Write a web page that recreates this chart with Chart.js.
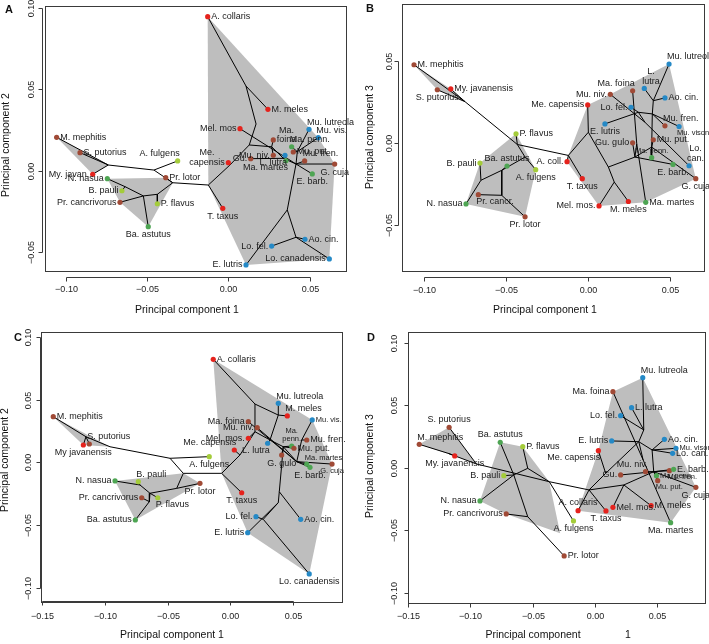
<!DOCTYPE html>
<html>
<head>
<meta charset="utf-8">
<script src="https://cdn.jsdelivr.net/npm/chart.js@4.4.1/dist/chart.umd.min.js"></script>
<style>
  body { margin: 0; background: #fff; width: 709px; height: 644px; position: relative; overflow: hidden; }
  canvas { position: absolute; }
</style>
</head>
<body>
<canvas id="chartA" width="354" height="320" style="left:0;top:0"></canvas>
<canvas id="chartB" width="355" height="320" style="left:354px;top:0"></canvas>
<canvas id="chartC" width="354" height="324" style="left:0;top:320px"></canvas>
<canvas id="chartD" width="355" height="324" style="left:354px;top:320px"></canvas>
<script>
// species order shared by all four panels
const species = ['M. mephitis', 'S. putorius', 'My. javanensis', 'N. nasua', 'B. pauli', 'Pr. cancrivorus',
    'P. flavus', 'Ba. astutus', 'Pr. lotor', 'A. fulgens', 'A. collaris', 'M. meles', 'Mel. mos.',
    'Me. capensis', 'Gu. gulo', 'T. taxus', 'Ma. foina', 'Mu. niv.', 'L. lutra', 'Ma. martes',
    'Ma. penn.', 'Mu. put.', 'Mu. lutreola', 'Mu. vison', 'Mu. fren.', 'G. cuja', 'E. barb.',
    'Lo. fel.', 'Ao. cin.', 'Lo. canadensis', 'E. lutris'];
const speciesGroup = ['brown', 'brown', 'red', 'green', 'ygreen', 'brown', 'ygreen', 'green', 'brown', 'ygreen',
    'red', 'red', 'red', 'red', 'brown', 'red', 'brown', 'brown', 'blue', 'green', 'green', 'brown',
    'blue', 'blue', 'brown', 'brown', 'green', 'blue', 'blue', 'blue', 'blue'];

// Panel A: PC1 vs PC2
const xA = [-0.1057, -0.0913, -0.0835, -0.0745, -0.0655, -0.0667, -0.0437, -0.0493, -0.0385, -0.0312,
    -0.0127, 0.0244, 0.0072, 0.0000, 0.0138, -0.0034, 0.0277, 0.0277, 0.0349, 0.0355, 0.0390, 0.0400,
    0.0497, 0.0554, 0.0470, 0.0655, 0.0517, 0.0267, 0.0472, 0.0622, 0.0109];
const yA = [0.0205, 0.0111, -0.0022, -0.0049, -0.0123, -0.0194, -0.0203, -0.0344, -0.0043, 0.0060,
    0.0946, 0.0377, 0.0258, 0.0049, 0.0074, -0.0231, 0.0189, 0.0095, 0.0095, 0.0061, 0.0147, 0.0115,
    0.0254, 0.0203, 0.0060, 0.0041, -0.0020, -0.0463, -0.0421, -0.0542, -0.0579];
const nodeNamesA = ['a1', 'a2', 'a3', 'a4', 'a5', 'a6', 'r0', 'nme', 'r1', 'r2', 'r3', 'c0', 'c1', 'c3', 'c4', 'r4', 'r5'];
const nodeXA = [-0.0739, -0.0458, -0.0342, -0.0523, -0.0437, -0.0636, -0.0123, 0.0010, 0.0129, 0.0171, 0.0109, 0.0267, 0.0339, 0.0417, 0.0425, 0.0363, 0.0417];
const nodeYA = [0.0035, 0.0004, -0.0074, -0.0155, -0.0145, -0.0098, -0.0088, 0.0035, 0.0158, 0.0287, 0.0520, 0.0147, 0.0076, 0.0041, 0.0117, -0.0241, -0.0409];
const edgesA = [[0, 'a1'], [1, 'a1'], [2, 'a1'], ['a1', 'a2'], ['a2', 9], ['a2', 'a3'], [8, 'a3'], ['a3', 'a5'],
    ['a5', 6], ['a5', 'a4'], ['a4', 7], ['a4', 5], ['a4', 'a6'], ['a6', 3], ['a6', 4], ['a3', 'r0'], ['r0', 15],
    ['r0', 'nme'], ['nme', 13], ['nme', 'r1'], ['r1', 'r2'], ['r2', 'r3'], ['r3', 10], ['r3', 11], ['r1', 'c0'],
    ['c0', 16], ['c0', 17], ['c0', 'c1'], [14, 'c1'], ['c1', 18], ['c1', 19], ['c1', 'c3'], [12, 'c3'], ['c3', 'c4'],
    ['c4', 22], ['c4', 23], ['c4', 20], ['c4', 21], ['c3', 24], ['c3', 25], ['c3', 26], ['c3', 'r4'], ['r4', 30],
    ['r4', 'r5'], ['r5', 27], ['r5', 28], ['r5', 29]];
const hullsA = [[0, 'a1', 2], [3, 8, 'a3', 7, 5], [10, 23, 25, 29, 30, 'r0']];
const labelA = ['M. mephitis', 'S. putorius', 'My. javan.', 'N. nasua', 'B. pauli', 'Pr. cancrivorus', 'P. flavus',
    'Ba. astutus', 'Pr. lotor', 'A. fulgens', 'A. collaris', 'M. meles', 'Mel. mos', 'Me.\ncapensis', 'Gu.',
    'T. taxus', 'Ma.\nfoina', 'Mu. niv.', 'L. lutra', 'Ma. martes', 'Ma. penn.', 'Mu. put.', 'Mu. lutreola',
    'Mu. vis.', 'Mu. fren.', 'G. cuja', 'E. barb.', 'Lo. fel.', 'Ao. cin.', 'Lo. canadensis', 'E. lutris'];
const xTicksA = [-0.10, -0.05, 0.00, 0.05];
const yTicksA = [-0.05, 0.00, 0.05, 0.10];

// Panel B: PC1 vs PC3
const xB = [-0.1059, -0.0917, -0.0835, -0.0742, -0.0657, -0.0667, -0.0437, -0.0492, -0.0382, -0.0317,
    -0.0126, 0.0248, 0.0069, 0.0000, 0.0274, -0.0033, 0.0274, 0.0138, 0.0345, 0.0354, 0.0390, 0.0400,
    0.0496, 0.0557, 0.0471, 0.0659, 0.0520, 0.0264, 0.0471, 0.0618, 0.0105];
const yB = [0.0480, 0.0327, 0.0332, -0.0372, -0.0122, -0.0315, 0.0057, -0.0140, -0.0451, -0.0162,
    -0.0113, -0.0357, -0.0384, 0.0234, 0.0002, -0.0217, 0.0321, 0.0299, 0.0335, -0.0362, -0.0089, 0.0021,
    0.0484, 0.0102, 0.0106, -0.0217, -0.0130, 0.0220, 0.0277, -0.0138, 0.0118];
const nodeNamesB = ['g1', 'g2', 'g3', 'g4', 'g5', 'g6', 'R', 'h1', 'h2', 'h3', 'h4', 'h5', 'h6', 'h7', 'h8', 'h9', 'h10'];
const nodeXB = [-0.0748, -0.0429, -0.0382, -0.0524, -0.0524, -0.0651, -0.0118, 0.0004, 0.0126, 0.0162, 0.0288, 0.0390, 0.0394, 0.0309, 0.0400, 0.0299, 0.0349];
const nodeYB = [0.0254, -0.0008, -0.0085, -0.0166, -0.0319, -0.0227, -0.0075, 0.0067, -0.0146, -0.0238, -0.0085, -0.0024, 0.0179, 0.0189, 0.0260, -0.0004, 0.0128];
const edgesB = [[0, 'g1'], [1, 'g1'], [2, 'g1'], ['g1', 'g2'], ['g2', 6], ['g2', 'g3'], ['g3', 9], ['g3', 'g4'],
    ['g4', 7], ['g4', 'g5'], ['g4', 'g6'], ['g5', 5], ['g5', 8], ['g6', 4], ['g6', 3], ['g2', 'R'], ['R', 10],
    ['R', 15], ['R', 'h1'], ['h1', 13], ['h1', 'h2'], ['h2', 'h3'], ['h3', 12], ['h3', 11], ['h2', 'h4'], ['h4', 14],
    ['h4', 26], ['h4', 'h9'], ['h9', 16], ['h9', 19], ['h4', 'h5'], ['h5', 21], ['h5', 20], ['h5', 25], ['h5', 'h6'],
    ['h6', 24], ['h6', 23], ['h6', 'h8'], ['h8', 18], ['h8', 28], ['h8', 22], ['h6', 'h7'], ['h7', 30], ['h7', 27],
    ['h7', 'h10'], ['h10', 17], ['h10', 29]];
const hullsB = [[0, 2, 'g1', 1], [6, 9, 8, 3, 4], [22, 25, 19, 12, 10, 'R', 13, 17]];
const labelB = ['M. mephitis', 'S. putorius', 'My. javanensis', 'N. nasua', 'B. pauli', 'Pr. cancr.', 'P. flavus',
    'Ba. astutus', 'Pr. lotor', 'A. fulgens', 'A. coll.', 'M. meles', 'Mel. mos.', 'Me. capensis', 'Gu. gulo',
    'T. taxus', 'Ma. foina', 'Mu. niv.', 'L.\nlutra', 'Ma. martes', 'Ma. penn.', 'Mu. put.', 'Mu. lutreola',
    'Mu. vison', 'Mu. fren.', 'G. cuja', 'E. barb.', 'Lo. fel.', 'Ao. cin.', 'Lo.\ncan.', 'E. lutris'];
const xTicksB = [-0.10, -0.05, 0.00, 0.05];
const yTicksB = [-0.05, 0.00, 0.05];

// Panel C: PC1 vs PC2 (second data set)
const xC = [-0.1413, -0.1125, -0.1173, -0.0920, -0.0734, -0.0707, -0.0579, -0.0758, -0.0242, -0.0168,
    -0.0136, 0.0455, 0.0144, 0.0032, 0.0410, 0.0091, 0.0144, 0.0215, 0.0298, 0.0610, 0.0490, 0.0508,
    0.0383, 0.0654, 0.0610, 0.0812, 0.0636, 0.0205, 0.0562, 0.0630, 0.0139];
const yC = [0.0364, 0.0146, 0.0138, -0.0149, -0.0155, -0.0283, -0.0283, -0.0460, -0.0168, 0.0045,
    0.0822, 0.0370, 0.0192, 0.0098, 0.0058, -0.0243, 0.0324, 0.0276, 0.0152, -0.0014, 0.0130, 0.0112,
    0.0471, 0.0338, 0.0178, -0.0014, -0.0040, -0.0434, -0.0455, -0.0891, -0.0562];
const nodeNamesC = ['k1', 'k0', 'k2', 'k3', 'k4', 'k5', 'k6', 'k7', 'Rc', 'm1', 'm2', 'm3', 'm4', 'm5', 'm6', 'm7', 'm8', 'm9', 'm10', 'm11'];
const nodeXC = [-0.1152, -0.0960, -0.0481, -0.0375, -0.0428, -0.0641, -0.0721, -0.0646, -0.0069, 0.0077, 0.0197, 0.0197, 0.0383, 0.0570, 0.0530, 0.0423, 0.0317, 0.0391, 0.0383, 0.0263];
const nodeYC = [0.0204, 0.0124, 0.0032, -0.0088, -0.0208, -0.0247, -0.0181, -0.0314, -0.0088, 0.0058, 0.0244, 0.0465, 0.0377, 0.0178, 0.0005, 0.0124, 0.0178, -0.0235, -0.0322, -0.0455];
const edgesC = [[0, 'k1'], ['k1', 1], ['k1', 2], ['k1', 'k0'], ['k0', 'k2'], ['k2', 9], ['k2', 'k3'], ['k3', 'Rc'],
    ['k3', 'k4'], ['k4', 8], ['k4', 'k5'], ['k5', 6], ['k5', 'k6'], ['k6', 3], ['k6', 4], ['k5', 'k7'], ['k7', 7],
    ['k7', 5], ['Rc', 15], ['Rc', 'm1'], ['m1', 13], ['m1', 'm2'], ['m2', 12], ['m2', 'm3'], ['m3', 10], ['m3', 'm4'],
    ['m4', 22], ['m4', 11], ['m4', 'm8'], ['m2', 'm8'], ['m8', 18], [17, 'm6'], [16, 'm6'], ['m8', 'm7'], ['m7', 20],
    ['m7', 21], ['m7', 14], ['m7', 'm6'], ['m6', 25], ['m6', 19], ['m6', 26], ['m6', 'm5'], ['m5', 23], ['m5', 24],
    ['m7', 'm9'], ['m9', 28], ['m9', 'm10'], ['m10', 30], ['m10', 'm11'], ['m11', 27], ['m11', 29]];
const hullsC = [[0, 'k0', 2], [3, 'k3', 8, 7], [10, 23, 25, 29, 30, 'Rc']];
const labelC = ['M. mephitis', 'S. putorius', 'My javanensis', 'N. nasua', 'B. pauli', 'Pr. cancrivorus', 'P. flavus',
    'Ba. astutus', 'Pr. lotor', 'A. fulgens', 'A. collaris', 'M. meles', 'Mel. mos.', 'Me. capensis', 'G. gulo',
    'T. taxus', 'Ma. foina', 'Mu. niv.', 'L. lutra', 'Ma. martes', 'Ma.\npenn.', 'Mu. put.', 'Mu. lutreola',
    'Mu. vis.', 'Mu. fren.', 'G. cuja', 'E. barb.', 'Lo. fel.', 'Ao. cin.', 'Lo. canadensis', 'E. lutris'];
const xTicksC = [-0.15, -0.10, -0.05, 0.00, 0.05];
const yTicksC = [-0.10, -0.05, 0.00, 0.05, 0.10];

// Panel D: PC1 vs PC3 (second data set)
const xD = [-0.1411, -0.1171, -0.1126, -0.0923, -0.0731, -0.0712, -0.0579, -0.0760, -0.0246, -0.0171,
    -0.0134, 0.0453, 0.0146, 0.0029, 0.0208, 0.0090, 0.0146, 0.0408, 0.0296, 0.0610, 0.0496, 0.0506,
    0.0386, 0.0653, 0.0600, 0.0813, 0.0634, 0.0208, 0.0560, 0.0626, 0.0136];
const yD = [0.0187, 0.0323, 0.0094, -0.0266, -0.0064, -0.0370, 0.0168, 0.0203, -0.0706, -0.0426,
    -0.0344, -0.0304, -0.0317, 0.0136, -0.0058, -0.0346, 0.0608, -0.0032, 0.0480, -0.0440, -0.0064, -0.0104,
    0.0720, 0.0155, -0.0024, -0.0157, -0.0013, 0.0416, 0.0227, 0.0115, 0.0214];
const nodeNamesD = ['d0', 'd1', 'd2', 'd3', 'e1', 'e2', 'e3', 'RD', 'f1', 'f2', 'f3', 'f4', 'f5', 'f6', 'f7'];
const nodeXD = [-0.1179, -0.0952, -0.0366, -0.0278, -0.0651, -0.0539, -0.0539, -0.0046, 0.0088, 0.0234, 0.0354, 0.0474, 0.0394, 0.0461, 0.0389];
const nodeYD = [0.0115, 0.0030, -0.0112, -0.0525, -0.0058, -0.0005, -0.0392, -0.0178, -0.0045, -0.0138, 0.0208, -0.0032, 0.0302, 0.0142, 0.0062];
const edgesD = [[0, 'd0'], ['d0', 2], ['d0', 'd1'], [1, 'd1'], ['d1', 'd2'], ['d2', 'e2'], ['e2', 6], ['e2', 'e1'],
    ['e1', 4], ['e1', 3], ['e1', 7], ['e1', 'e3'], ['e3', 5], ['e3', 8], ['d2', 9], ['d2', 'RD'], ['RD', 15],
    ['RD', 10], ['RD', 'f1'], ['f1', 13], ['f1', 'f3'], ['RD', 'f2'], ['f2', 12], ['f2', 11], ['f2', 'f4'], ['f3', 30],
    ['f3', 'f5'], ['f5', 27], ['f5', 18], ['f5', 22], ['f3', 'f6'], ['f6', 28], ['f6', 29], ['f6', 23], ['f6', 'f4'],
    ['f4', 17], ['f4', 20], ['f4', 26], ['f4', 24], ['f4', 21], ['f4', 25], ['f4', 14], [16, 'f7'], ['f7', 19], ['f7', 'f3']];
const hullsD = [[0, 1, 'd1', 2], [7, 6, 'd2', 'd3', 5, 3], [22, 25, 19, 10, 13, 16]];
const labelD = ['M. mephitis', 'S. putorius', 'My. javanensis', 'N. nasua', 'B. pauli', 'Pr. cancrivorus', 'P. flavus',
    'Ba. astutus', 'Pr. lotor', 'A. fulgens', 'A. collaris', 'M. meles', 'Mel. mos.', 'Me. capensis', 'Gu.',
    'T. taxus', 'Ma. foina', 'Mu. niv.', 'L. lutra', 'Ma. martes', 'Ma. penn.', 'Mu. put.', 'Mu. lutreola',
    'Mu. vison', 'Mu. fren.', 'G. cuja', 'E. barb.', 'Lo. fel.', 'Ao. cin.', 'Lo. can.', 'E. lutris'];
const xTicksD = [-0.15, -0.10, -0.05, 0.00, 0.05];
const yTicksD = [-0.10, -0.05, 0.00, 0.05, 0.10];

// ---- styling ----
const FONT = '"Liberation Sans", Arial, Helvetica, sans-serif';
const groupColors = { red: '#e5231d', brown: '#a04a36', green: '#4ea553', ygreen: '#a4cc3a', blue: '#2589c6' };
const HULL_GRAY = '#bebebe';

// where each label sits relative to its point
const sideA = ['r', 'r', 'l', 'l', 'l', 'l', 'r', 'b', 'r', 'tl', 'r', 'r', 'l', 'l', 'l', 'b', 'r', 'l', 'bl', 'bl',
    'tr', 'r', 'tr', 'tr', 'tr', 'b', 'b', 'l', 'r', 'l', 'l'];
const sideB = ['r', 'b', 'r', 'l', 'l', 'br', 'r', 't', 'b', 'b', 'l', 'b', 'l', 'l', 'l', 'b', 'tl', 'l', 'tr', 'r',
    't', 'r', 'tr', 'br', 'tr', 'b', 'b', 'l', 'r', 'tr', 'b'];
const sideC = ['r', 'tr', 'b', 'l', 'tr', 'l', 'br', 'l', 'b', 'b', 'r', 'tr', 'l', 'tl', 'b', 'b', 'l', 'l', 'bl', 'tr',
    't', 'r', 'tr', 'r', 'r', 'b', 'b', 'l', 'r', 'b', 'l'];
const sideD = ['tr', 't', 'b', 'l', 'l', 'l', 'r', 't', 'r', 'b', 't', 'r', 'r', 'bl', 'l', 'b', 'l', 'tl', 'r', 'b',
    'r', 'br', 'tr', 'r', 'br', 'b', 'r', 'l', 'r', 'r', 'l'];

function fmtTick(v) {
    return v.toFixed(2).replace('-', '\u2212');
}

// R-style axes: box, detached axis lines, rotated y labels, titles
const baseAxes = {
    id: 'baseAxes',
    afterDraw(chart, args, o) {
        const ctx = chart.ctx;
        const a = chart.chartArea;
        const xs = chart.scales.x;
        const ys = chart.scales.y;
        ctx.save();
        ctx.strokeStyle = '#3a3a3a';
        ctx.fillStyle = '#222';
        ctx.lineWidth = 1;
        ctx.strokeRect(Math.round(a.left) + 0.5, Math.round(a.top) + 0.5,
            Math.round(a.right - a.left), Math.round(a.bottom - a.top));

        // x axis
        const yAx = Math.round(a.bottom + o.xGap) + 0.5;
        const px = o.xTicks.map(v => Math.round(xs.getPixelForValue(v)) + 0.5);
        ctx.beginPath();
        ctx.moveTo(px[0], yAx);
        ctx.lineTo(px[px.length - 1], yAx);
        px.forEach(p => { ctx.moveTo(p, yAx); ctx.lineTo(p, yAx + o.tick); });
        ctx.stroke();
        ctx.font = '9px ' + FONT;
        ctx.textAlign = 'center';
        ctx.textBaseline = 'middle';
        o.xTicks.forEach((v, i) => ctx.fillText(fmtTick(v), px[i], a.bottom + o.xLab));

        // y axis
        const xAx = Math.round(a.left - o.yGap) + 0.5;
        const py = o.yTicks.map(v => Math.round(ys.getPixelForValue(v)) + 0.5);
        ctx.beginPath();
        ctx.moveTo(xAx, py[0]);
        ctx.lineTo(xAx, py[py.length - 1]);
        py.forEach(p => { ctx.moveTo(xAx, p); ctx.lineTo(xAx - o.tick, p); });
        ctx.stroke();
        o.yTicks.forEach((v, i) => {
            ctx.save();
            ctx.translate(a.left - o.yLab, py[i]);
            ctx.rotate(-Math.PI / 2);
            ctx.fillText(fmtTick(v), 0, 0);
            ctx.restore();
        });

        // titles
        ctx.fillStyle = '#111';
        ctx.font = '10.5px ' + FONT;
        o.xTitle.forEach(t => ctx.fillText(t[0], t[1], t[2]));
        ctx.save();
        ctx.translate(o.yTitle[1], o.yTitle[2]);
        ctx.rotate(-Math.PI / 2);
        ctx.fillText(o.yTitle[0], 0, 0);
        ctx.restore();
        ctx.font = 'bold 11px ' + FONT;
        ctx.fillText(o.letter[0], o.letter[1], o.letter[2]);
        ctx.restore();
    }
};

// species names next to the tip points
const speciesLabels = {
    id: 'speciesLabels',
    afterDatasetsDraw(chart, args, o) {
        const ctx = chart.ctx;
        const xs = chart.scales.x;
        const ys = chart.scales.y;
        ctx.save();
        ctx.fillStyle = '#1a1a1a';
        ctx.textBaseline = 'middle';
        o.labels.forEach((text, i) => {
            const size = o.small.includes(i) ? 7.5 : 9;
            const lines = text.split('\n');
            const lh = size * 1.1;
            ctx.font = size + 'px ' + FONT;
            const w = Math.max(...lines.map(l => ctx.measureText(l).width));
            const x = xs.getPixelForValue(o.xs[i]);
            const y = ys.getPixelForValue(o.ys[i]);
            const side = o.sides[i];
            const g = 3.5;
            let cx, lastY, firstY = null;
            if (side === 'r') { cx = x + g + w / 2; lastY = y; }
            else if (side === 'l') { cx = x - g - w / 2; lastY = y; }
            else if (side === 't') { cx = x; lastY = y - g - size * 0.5; }
            else if (side === 'b') { cx = x; firstY = y + g + size * 0.5; }
            else if (side === 'tr') { cx = x - 2 + w / 2; lastY = y - g - size * 0.4; }
            else if (side === 'tl') { cx = x + 2 - w / 2; lastY = y - g - size * 0.4; }
            else if (side === 'br') { cx = x - 2 + w / 2; firstY = y + g + size * 0.4; }
            else { cx = x + 2 - w / 2; firstY = y + g + size * 0.4; }
            if (firstY === null) firstY = lastY - (lines.length - 1) * lh;
            ctx.textAlign = 'center';
            lines.forEach((l, k) => ctx.fillText(l, cx, firstY + k * lh));
        });
        ctx.restore();
    }
};

function makePanel(id, xs, ys, nodeNames, nodeX, nodeY, edges, hulls, labels, sides, small, range, pad, axes) {
    const pt = key => {
        if (typeof key === 'number') return { x: xs[key], y: ys[key] };
        const k = nodeNames.indexOf(key);
        return { x: nodeX[k], y: nodeY[k] };
    };
    const gap = { x: NaN, y: NaN };
    const edgeData = [];
    edges.forEach(([a, b]) => { edgeData.push(pt(a), pt(b), gap); });

    const datasets = [{
        type: 'scatter',
        data: xs.map((x, i) => ({ x: x, y: ys[i] })),
        backgroundColor: speciesGroup.map(g => groupColors[g]),
        borderWidth: 0,
        pointRadius: 2.6,
        order: 0
    }, {
        type: 'line',
        data: edgeData,
        borderColor: '#000',
        borderWidth: 1,
        pointRadius: 0,
        fill: false,
        spanGaps: false,
        order: 1
    }];
    hulls.forEach(h => {
        const verts = h.map(pt);
        verts.push(verts[0]);
        datasets.push({
            type: 'line',
            data: verts,
            borderWidth: 0,
            borderColor: HULL_GRAY,
            backgroundColor: HULL_GRAY,
            pointRadius: 0,
            fill: 'shape',
            order: 2
        });
    });

    new Chart(document.getElementById(id), {
        type: 'scatter',
        data: { datasets: datasets },
        options: {
            responsive: false,
            animation: false,
            events: [],
            layout: { padding: pad },
            scales: {
                x: { type: 'linear', min: range[0], max: range[1], display: false },
                y: { type: 'linear', min: range[2], max: range[3], display: false }
            },
            plugins: {
                legend: { display: false },
                tooltip: { enabled: false },
                baseAxes: axes,
                speciesLabels: { labels: labels, sides: sides, small: small, xs: xs, ys: ys }
            }
        },
        plugins: [baseAxes, speciesLabels]
    });
}

makePanel('chartA', xA, yA, nodeNamesA, nodeXA, nodeYA, edgesA, hullsA, labelA, sideA, [],
    [-0.11287, 0.07247, -0.06161, 0.10117],
    { left: 45, top: 6, right: 8, bottom: 49 },
    { xTicks: xTicksA, yTicks: yTicksA, xGap: 6, yGap: 3, tick: 4, xLab: 19, yLab: 13,
      xTitle: [['Principal component 1', 187, 310]], yTitle: ['Principal component 2', 6, 145], letter: ['A', 9, 10] });

makePanel('chartB', xB, yB, nodeNamesB, nodeXB, nodeYB, edgesB, hullsB, labelB, sideB, [20, 23],
    [-0.11341, 0.07091, -0.07823, 0.08518],
    { left: 47.7, top: 3, right: 5, bottom: 49 },
    { xTicks: xTicksB, yTicks: yTicksB, xGap: 6, yGap: 4, tick: 4, xLab: 20, yLab: 12.5,
      xTitle: [['Principal component 1', 191, 310]], yTitle: ['Principal component 3', 16, 137], letter: ['B', 16, 9] });

makePanel('chartC', xC, yC, nodeNamesC, nodeXC, nodeYC, edgesC, hullsC, labelC, sideC, [19, 20, 23, 25],
    [-0.15108, 0.08891, -0.11069, 0.10439],
    { left: 41, top: 11.5, right: 12.3, bottom: 43 },
    { xTicks: xTicksC, yTicks: yTicksC, xGap: 0, yGap: 1.5, tick: 4, xLab: 16, yLab: 12,
      xTitle: [['Principal component 1', 172, 315]], yTitle: ['Principal component 2', 5, 140], letter: ['C', 18, 18] });

makePanel('chartD', xD, yD, nodeNamesD, nodeXD, nodeYD, edgesD, hullsD, labelD, sideD, [20, 21, 23, 24],
    [-0.1504, 0.08864, -0.10784, 0.1088],
    { left: 53.7, top: 11.7, right: 2.5, bottom: 41.5 },
    { xTicks: xTicksD, yTicks: yTicksD, xGap: 0, yGap: 0, tick: 4, xLab: 14.5, yLab: 12.7,
      xTitle: [['Principal component', 179, 315], ['1', 274, 315]], yTitle: ['Principal component 3', 16, 146], letter: ['D', 17, 18] });
</script>
</body>
</html>
